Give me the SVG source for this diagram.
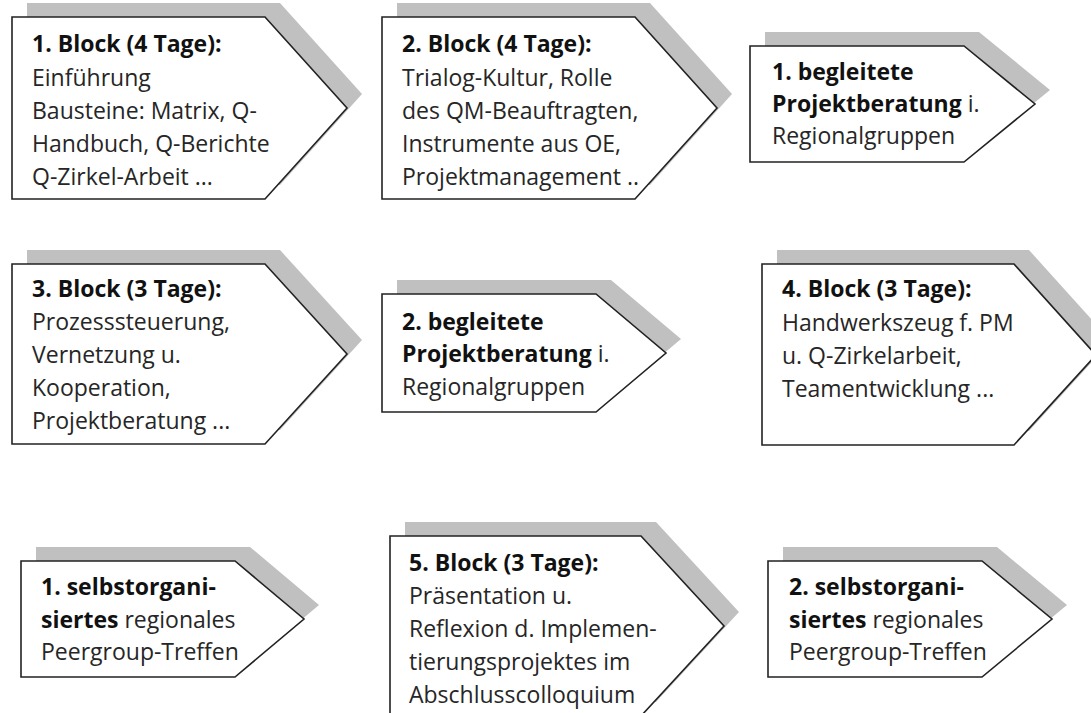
<svg xmlns="http://www.w3.org/2000/svg" xmlns:xlink="http://www.w3.org/1999/xlink" width="1091" height="713" viewBox="0 0 1091 713">
<style>
.bg{fill:#ffffff}
.shadow{fill:#c0c0c0;stroke:none}
.box{fill:#ffffff;stroke:#222222;stroke-width:1.6;stroke-linejoin:miter}
text{font-family:"Open Sans","Noto Sans","Liberation Sans",sans-serif;font-size:23px;fill:#262626}
.b{font-weight:bold;fill:#111111}
</style>
<defs>
<polygon id="p1" points="12,17 265,17 347,108 265,199 12,199"/>
<polygon id="p2" points="382,17 635,17 717,108 635,199 382,199"/>
<polygon id="p3" points="750,46 964,46 1035,104 964,162 750,162"/>
<polygon id="p4" points="12,264 265,264 347,354 265,444 12,444"/>
<polygon id="p5" points="382,294 596,294 666,353 596,412 382,412"/>
<polygon id="p6" points="762,264 1014,264 1096,355 1014,445 762,445"/>
<polygon id="p7" points="21,561 235,561 304,619 235,677 21,677"/>
<polygon id="p8" points="390,536 641,536 724,626 641,716 390,716"/>
<polygon id="p9" points="768,561 982,561 1052,619 982,677 768,677"/>
</defs>
<rect class="bg" x="0" y="0" width="1091" height="713"/>
<g id="connectors"></g>
<g id="block1">
<use xlink:href="#p1" class="shadow" transform="translate(15,-14)"/>
<use xlink:href="#p1" class="box"/>
<text x="32" y="52" class="b">1. Block (4 Tage):</text>
<text x="32" y="86">Einführung</text>
<text x="32" y="119">Bausteine: Matrix, Q-</text>
<text x="32" y="152">Handbuch, Q-Berichte</text>
<text x="32" y="185">Q-Zirkel-Arbeit ...</text>
</g>
<g id="block2">
<use xlink:href="#p2" class="shadow" transform="translate(15,-14)"/>
<use xlink:href="#p2" class="box"/>
<text x="402" y="52" class="b">2. Block (4 Tage):</text>
<text x="402" y="86">Trialog-Kultur, Rolle</text>
<text x="402" y="119">des QM-Beauftragten,</text>
<text x="402" y="152">Instrumente aus OE,</text>
<text x="402" y="185">Projektmanagement ..</text>
</g>
<g id="beratung1">
<use xlink:href="#p3" class="shadow" transform="translate(15,-14)"/>
<use xlink:href="#p3" class="box"/>
<text x="772" y="80" class="b">1. begleitete</text>
<text x="772" y="112"><tspan class="b">Projektberatung</tspan> i.</text>
<text x="772" y="144">Regionalgruppen</text>
</g>
<g id="block3">
<use xlink:href="#p4" class="shadow" transform="translate(15,-14)"/>
<use xlink:href="#p4" class="box"/>
<text x="32" y="297" class="b">3. Block (3 Tage):</text>
<text x="32" y="330">Prozesssteuerung,</text>
<text x="32" y="363">Vernetzung u.</text>
<text x="32" y="396">Kooperation,</text>
<text x="32" y="429">Projektberatung ...</text>
</g>
<g id="beratung2">
<use xlink:href="#p5" class="shadow" transform="translate(15,-14)"/>
<use xlink:href="#p5" class="box"/>
<text x="402" y="330" class="b">2. begleitete</text>
<text x="402" y="362"><tspan class="b">Projektberatung</tspan> i.</text>
<text x="402" y="395">Regionalgruppen</text>
</g>
<g id="block4">
<use xlink:href="#p6" class="shadow" transform="translate(15,-14)"/>
<use xlink:href="#p6" class="box"/>
<text x="782" y="297" class="b">4. Block (3 Tage):</text>
<text x="782" y="331">Handwerkszeug f. PM</text>
<text x="782" y="364">u. Q-Zirkelarbeit,</text>
<text x="782" y="397">Teamentwicklung ...</text>
</g>
<g id="peer1">
<use xlink:href="#p7" class="shadow" transform="translate(15,-14)"/>
<use xlink:href="#p7" class="box"/>
<text x="41" y="595" class="b">1. selbstorgani-</text>
<text x="41" y="628"><tspan class="b">siertes</tspan> regionales</text>
<text x="41" y="660">Peergroup-Treffen</text>
</g>
<g id="block5">
<use xlink:href="#p8" class="shadow" transform="translate(15,-14)"/>
<use xlink:href="#p8" class="box"/>
<text x="409" y="571" class="b">5. Block (3 Tage):</text>
<text x="409" y="604">Präsentation u.</text>
<text x="409" y="637">Reflexion d. Implemen-</text>
<text x="409" y="670">tierungsprojektes im</text>
<text x="409" y="703">Abschlusscolloquium</text>
</g>
<g id="peer2">
<use xlink:href="#p9" class="shadow" transform="translate(15,-14)"/>
<use xlink:href="#p9" class="box"/>
<text x="789" y="595" class="b">2. selbstorgani-</text>
<text x="789" y="628"><tspan class="b">siertes</tspan> regionales</text>
<text x="789" y="660">Peergroup-Treffen</text>
</g>
</svg>
